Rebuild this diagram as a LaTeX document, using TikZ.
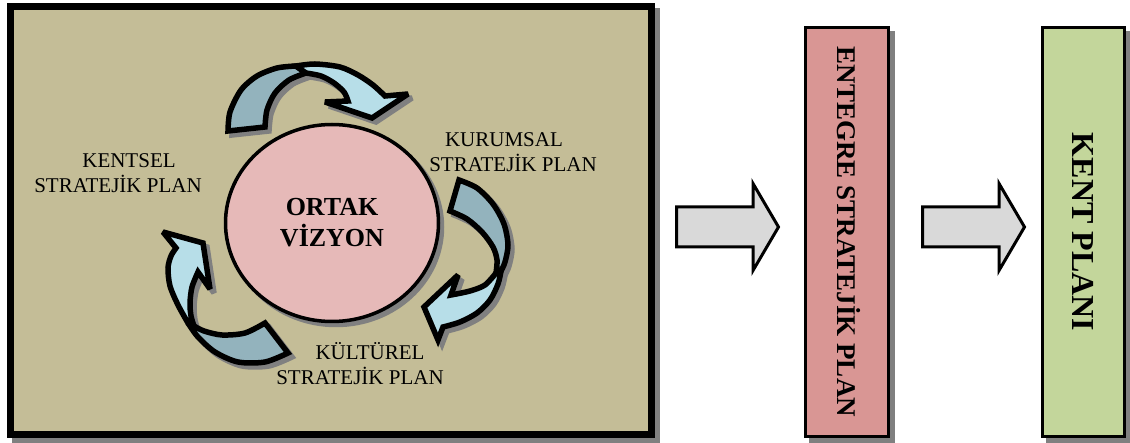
\documentclass[tikz,border=0pt]{standalone}
\usepackage{fontspec}
\setmainfont{Liberation Serif}
\usepackage{graphicx}
\usepackage{tikz}
\usetikzlibrary{shapes.geometric, shadows, positioning}

\definecolor{panelbg}{HTML}{C4BD97}
\definecolor{visionpink}{HTML}{E6B9B8}
\definecolor{esppink}{HTML}{D99694}
\definecolor{kentgreen}{HTML}{C3D69B}
\definecolor{ribbonlight}{HTML}{B7DEE8}
\definecolor{ribbondark}{HTML}{93B3BD}
\definecolor{flowgray}{HTML}{D9D9D9}
\definecolor{shadowgray}{HTML}{808080}

% ribbon arrows round the vision (back half and front half)
\newcommand\topback{plot[smooth] coordinates {(228,131) (230,112) (241,90) (257,76) (277,68) (296,66)} -- plot[smooth] coordinates {(306,73) (289,80) (275,93) (267,110) (265,127)} -- cycle}
\newcommand\topfront{plot[smooth] coordinates {(296,66) (315,64) (340,67) (358,75) (373,85) (385,96)} -- (408,94) -- (372,118) -- (325,102) -- plot[smooth] coordinates {(348,101) (344,92) (334,83) (321,76) (306,73)} -- cycle}
\newcommand\rightback{plot[smooth] coordinates {(459,180) (477,188) (493,204) (504,224) (508,245) (505,262) (501,271)} -- plot[smooth] coordinates {(496,273) (497,260) (493,247) (482,232) (467,219) (450,211)} -- cycle}
\newcommand\rightfront{plot[smooth] coordinates {(501,271) (498,284) (490,300) (477,313) (460,322) (443,327)} -- (438,340) -- (424,307) -- (458,275) -- plot[smooth] coordinates {(451,295) (470,291) (485,285) (496,273)} -- cycle}
\newcommand\leftback{plot[smooth] coordinates {(288,353) (265,362) (238,362) (215,352) (198,337) (188,323)} -- plot[smooth] coordinates {(194,326) (204,331) (222,335) (245,333) (265,323)} -- cycle}
\newcommand\leftfront{plot[smooth] coordinates {(188,323) (178,305) (170,286) (168,268) (171,256) (176,248)} -- (163,232) -- (203,243) -- (210,289) -- plot[smooth] coordinates {(198,272) (192,287) (190,303) (191,316) (194,326)} -- cycle}

\begin{document}
\begin{tikzpicture}[
    x=1pt, y=-1pt,
    panel/.style={rectangle, draw, line width=7pt, fill=panelbg, minimum width=641pt, minimum height=428pt, inner sep=0pt,
        drop shadow={shadow xshift=5pt, shadow yshift=-5pt, opacity=1, fill=shadowgray, draw=shadowgray, line width=7pt}},
    vision/.style={ellipse, draw, line width=3.5pt, fill=visionpink, minimum width=213pt, minimum height=197pt, inner sep=0pt,
        align=center, font=\bfseries\fontsize{26pt}{31pt}\selectfont,
        drop shadow={shadow xshift=4pt, shadow yshift=-4pt, opacity=1, fill=shadowgray, draw=shadowgray, line width=3.5pt}},
    planbox/.style={rectangle, draw, line width=3pt, minimum height=409pt, inner sep=0pt,
        drop shadow={shadow xshift=5pt, shadow yshift=-5pt, opacity=1, fill=shadowgray, draw=shadowgray, line width=3pt}},
    plantext/.style={align=center, font=\fontsize{21pt}{25pt}\selectfont, inner sep=0pt},
    ribbon/.style={draw=black, line width=5.5pt, line join=miter, miter limit=3},
    ribbonshadow/.style={fill=shadowgray, draw=shadowgray, line width=5.5pt, line join=miter, miter limit=3, shift={(4,4)}},
    blockline/.style={draw, line width=3pt, fill=flowgray, miter limit=4},
    flowarrow/.pic={\path[blockline] (0,-20) -- (76.5,-20) -- (76.5,-43.5) -- (102,0) -- (76.5,43.5) -- (76.5,20) -- (0,20) -- cycle;}
]
    \useasboundingbox (0,0) rectangle (1130,443);

    % Frame
    \node[panel] (frame) at (331,220.5) {};

    % Ribbon arrows
    \path[ribbonshadow] \topback;
    \path[ribbonshadow] \topfront;
    \path[ribbonshadow] \rightback;
    \path[ribbonshadow] \rightfront;
    \path[ribbonshadow] \leftback;
    \path[ribbonshadow] \leftfront;
    \path[ribbon, fill=ribbondark] \topback;
    \path[ribbon, fill=ribbonlight] \topfront;
    \path[ribbon, fill=ribbondark] \rightback;
    \path[ribbon, fill=ribbonlight] \rightfront;
    \path[ribbon, fill=ribbondark] \leftback;
    \path[ribbon, fill=ribbonlight] \leftfront;

    % Vision
    \node[vision] (vision) at (332,223) {ORTAK\\VİZYON};

    % Plans
    \node[plantext] (kentsel) at (118,173.5) {\null\kern22pt KENTSEL\\STRATEJİK PLAN};
    \node[plantext] (kurumsal) at (513,152) {KURUMSAL\kern18pt\\STRATEJİK PLAN};
    \node[plantext] (kulturel) at (360,363.5) {\null\kern20pt KÜLTÜREL\\STRATEJİK PLAN};

    % Right side
    \node[planbox, fill=esppink, minimum width=83pt, font=\bfseries\fontsize{27pt}{27pt}\selectfont] (esp) at (847,232)
        {\kern3pt\rotatebox{-90}{ENTEGRE STRATEJİK PLAN}};
    \node[planbox, fill=kentgreen, minimum width=82pt, right=151pt of esp, font=\bfseries\fontsize{32pt}{32pt}\selectfont] (kent)
        {\rotatebox{-90}{KENT PLANI}};

    % Arrows
    \pic (flowA) at (676.5,227) {flowarrow};
    \pic (flowB) at (922.5,227) {flowarrow};
\end{tikzpicture}
\end{document}
